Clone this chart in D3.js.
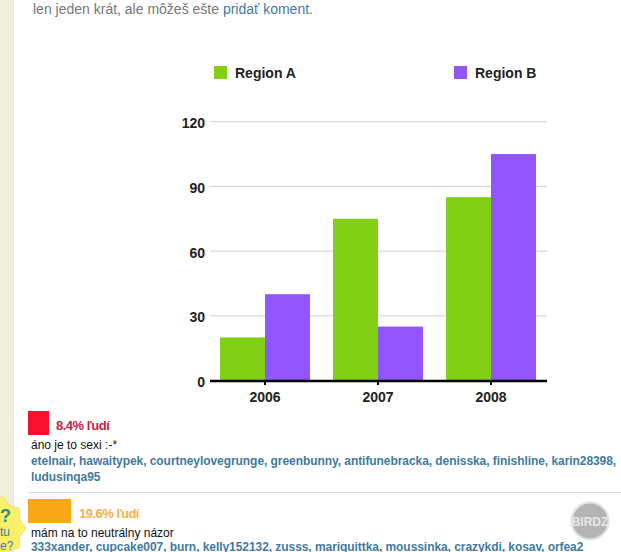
<!DOCTYPE html>
<html>
<head>
<meta charset="utf-8">
<script src="https://cdn.jsdelivr.net/npm/d3@7"></script>
<style>
  html, body { margin: 0; padding: 0; background: #fff; overflow: hidden; }
  svg { display: block; font-family: "Liberation Sans", Arial, sans-serif; }
  .tick-label { font-size: 14px; font-weight: bold; fill: #222; }
  .legend-label { font-size: 14px; font-weight: bold; fill: #222; }
  .names { font-size: 12px; font-weight: bold; fill: #3f7a9e; letter-spacing: -0.06px; }
  .answer { font-size: 12px; fill: #111; }
  .pct { font-size: 13px; font-weight: bold; letter-spacing: -0.5px; }
</style>
</head>
<body>
<svg id="chart" width="621" height="552"></svg>
<script>
const years = ['2006', '2007', '2008'];
const seriesNames = ['Region A', 'Region B'];
const seriesColors = ['#82d016', '#9254fb'];
const regionA = [20, 75, 85];
const regionB = [40, 25, 105];
const yTicks = [0, 30, 60, 90, 120];

const svg = d3.select('#chart');

// page behind the chart
svg.append('rect').attr('x', 0).attr('y', 0).attr('width', 14).attr('height', 552).attr('fill', '#f1efdc');
svg.append('rect').attr('x', 13).attr('y', 0).attr('width', 1).attr('height', 552).attr('fill', '#e6e4d2');

const topText = svg.append('text').attr('x', 33).attr('y', 14).attr('font-size', 14).attr('fill', '#777');
topText.append('tspan').text('len jeden krát, ale môžeš ešte ');
topText.append('tspan').attr('fill', '#3f7a9e').text('pridať koment');
topText.append('tspan').text('.');

// scales
const x0 = d3.scaleBand().domain(years).range([208.5, 547.5]);
const x1 = d3.scaleBand().domain(seriesNames).range([x0.bandwidth() / 2 - 45, x0.bandwidth() / 2 + 45]);
const y = d3.scaleLinear().domain([0, 120]).range([380.5, 121.7]);

// grid
svg.selectAll('.grid').data(yTicks.filter(d => d > 0)).enter().append('line')
  .attr('x1', 210).attr('x2', 547)
  .attr('y1', d => y(d)).attr('y2', d => y(d))
  .attr('stroke', '#cfcfcf').attr('stroke-width', 1);

// bars
[regionA, regionB].forEach((values, s) => {
  svg.selectAll('.bar' + s).data(values).enter().append('rect')
    .attr('x', (d, i) => x0(years[i]) + x1(seriesNames[s]))
    .attr('y', d => y(d))
    .attr('width', x1.bandwidth())
    .attr('height', d => y(0) - y(d))
    .attr('fill', seriesColors[s]);
});

// axes
const yAxis = svg.append('g').attr('transform', 'translate(210,1)')
  .call(d3.axisLeft(y).tickValues(yTicks).tickSize(0).tickPadding(5));
yAxis.select('.domain').remove();
yAxis.selectAll('text').attr('class', 'tick-label').attr('dy', '0.36em');

const xAxis = svg.append('g').attr('transform', 'translate(0,381)')
  .call(d3.axisBottom(x0).tickSize(4).tickPadding(7));
xAxis.select('.domain').attr('d', 'M210,0H547').attr('stroke', '#000').attr('stroke-width', 2.5);
xAxis.selectAll('.tick line').attr('stroke', '#000').attr('stroke-width', 2);
xAxis.selectAll('text').attr('class', 'tick-label');

// legend
const legendX = [214, 454];
seriesNames.forEach((name, i) => {
  svg.append('rect').attr('x', legendX[i]).attr('y', 66).attr('width', 13).attr('height', 13).attr('fill', seriesColors[i]);
  svg.append('text').attr('class', 'legend-label').attr('x', legendX[i] + 21).attr('y', 78).text(name);
});

// poll results under the chart
svg.append('rect').attr('x', 28).attr('y', 411).attr('width', 21).attr('height', 24).attr('fill', '#fb0f2f');
svg.append('text').attr('class', 'pct').attr('x', 56).attr('y', 430).attr('fill', '#c8203f').text('8.4% ľudí');
svg.append('text').attr('class', 'answer').attr('x', 31).attr('y', 449).text('áno je to sexi :-*');
svg.append('text').attr('class', 'names').attr('x', 31).attr('y', 465)
  .text('etelnair, hawaitypek, courtneylovegrunge, greenbunny, antifunebracka, denisska, finishline, karin28398,');
svg.append('text').attr('class', 'names').attr('x', 31).attr('y', 481).text('ludusinqa95');
svg.append('line').attr('x1', 28).attr('x2', 621).attr('y1', 492.5).attr('y2', 492.5).attr('stroke', '#d8d8d8');

// yellow badge, cut off on the left
const badgeAngles = d3.range(0, 360, 18);
const badge = badgeAngles.map((a, i) => {
  const r = i % 2 ? 28 : 33;
  return [r * Math.cos(a * Math.PI / 180), r * Math.sin(a * Math.PI / 180)];
});
svg.append('path').attr('transform', 'translate(-7,528)').attr('d', d3.line()(badge) + 'Z').attr('fill', '#fbf06a').attr('stroke', '#efe27a');
svg.append('text').attr('x', 0).attr('y', 522).attr('font-size', 18).attr('font-weight', 'bold').attr('fill', '#2f8f7f').text('?');
svg.append('text').attr('x', 0).attr('y', 536).attr('font-size', 12).attr('fill', '#3f7a9e').text('tu');
svg.append('text').attr('x', 0).attr('y', 550).attr('font-size', 12).attr('fill', '#3f7a9e').text('e?');

svg.append('rect').attr('x', 28).attr('y', 499).attr('width', 43).attr('height', 24).attr('fill', '#f9a815');
svg.append('text').attr('class', 'pct').attr('x', 79).attr('y', 518).attr('fill', '#f3b04a').text('19.6% ľudí');
svg.append('text').attr('class', 'answer').attr('x', 31).attr('y', 537).text('mám na to neutrálny názor');
svg.append('text').attr('class', 'names').attr('x', 31).attr('y', 551)
  .text('333xander, cupcake007, burn, kelly152132, zusss, mariquittka, moussinka, crazykdi, kosav, orfea2');

// BIRDZ watermark
svg.append('circle').attr('cx', 590).attr('cy', 521).attr('r', 18.5).attr('fill', '#b4b4b4').attr('stroke', '#e2e2e2').attr('stroke-width', 2);
svg.append('text').attr('x', 590).attr('y', 526).attr('text-anchor', 'middle').attr('font-size', 12).attr('font-weight', 'bold').attr('fill', '#e8e8e8').text('BIRDZ');
</script>
</body>
</html>
